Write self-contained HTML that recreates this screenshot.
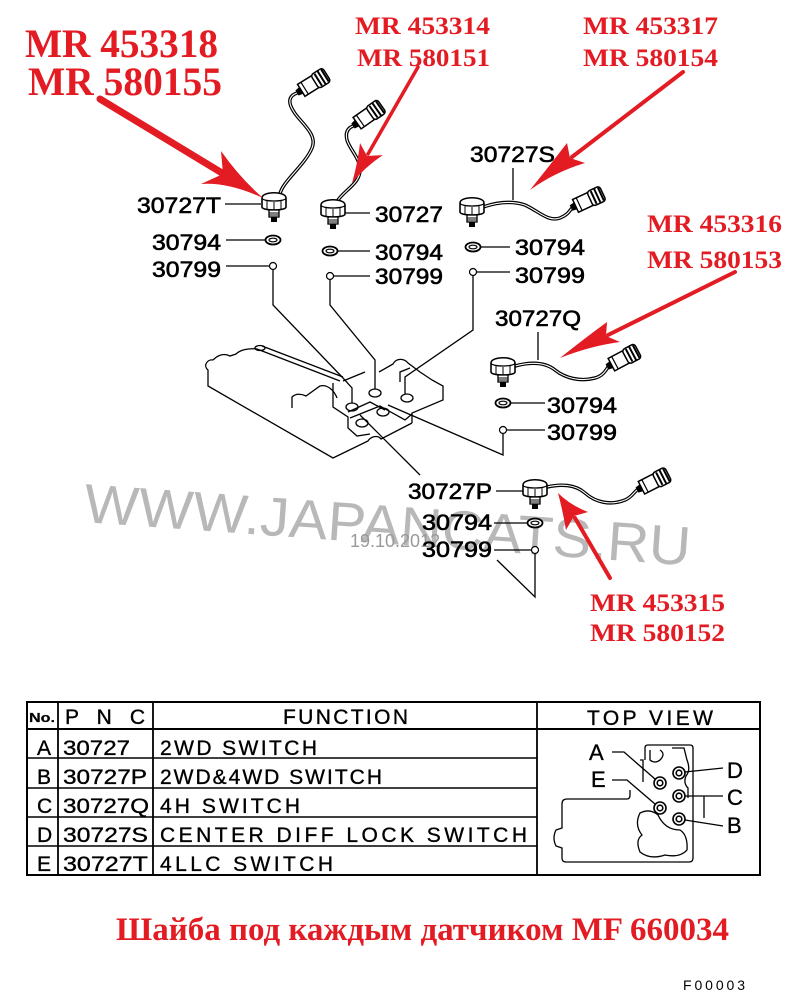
<!DOCTYPE html>
<html><head><meta charset="utf-8">
<style>
html,body{margin:0;padding:0;background:#fff;}
svg{display:block;}
.lbl{font-family:"Liberation Sans",Arial,sans-serif;font-size:22px;fill:#000;stroke:#000;stroke-width:0.6;}
.red{font-family:"Liberation Serif","Times New Roman",serif;font-weight:bold;fill:#e31b23;}
.ln{stroke:#000;stroke-width:1.3;fill:none;}
.tb{font-family:"Liberation Sans",Arial,sans-serif;font-size:21px;fill:#000;stroke:#000;stroke-width:0.35;}
</style></head><body>
<svg width="800" height="1008" viewBox="0 0 800 1008" xmlns="http://www.w3.org/2000/svg">
<rect width="800" height="1008" fill="#fff"/>
<defs>
<g id="sw">
<path d="M-12,5 C-12,-2 12,-2 12,5 L12,14 C12,18 -12,18 -12,14 Z" fill="#fff" stroke="#000" stroke-width="1.6"/>
<path d="M-12,5 C-12,9 12,9 12,5" fill="none" stroke="#000" stroke-width="1.2"/>
<path d="M-7,8 L-7,16 M0,9 L0,17 M7,8 L7,16" fill="none" stroke="#000" stroke-width="1"/>
<rect x="-5" y="17" width="10" height="7" fill="#fff" stroke="#000" stroke-width="1.3"/>
<path d="M-5,20 L5,20 M-5,22 L5,22" stroke="#000" stroke-width="1"/>
<path d="M-3,24 L-3,29 L3,29 L3,24 Z" fill="#000"/>
</g>
<g id="cn">
<path d="M0,-3 L6,-4 L6,4 L0,3Z" fill="#000"/>
<rect x="5" y="-7" width="17" height="14" fill="#fff" stroke="#000" stroke-width="1.5"/>
<path d="M9,-7 L9,7" stroke="#000" stroke-width="1.2"/>
<rect x="21" y="-8" width="14" height="16" rx="3" fill="#fff" stroke="#000" stroke-width="1.5"/>
<path d="M25,-7 L25,7 M29,-8 L29,8 M33,-7 L33,7" stroke="#000" stroke-width="2"/>
</g>
</defs>

<!-- watermark -->
<text x="83" y="522" transform="rotate(4.1 83 522)" font-family="Liberation Sans, Arial, sans-serif" font-size="55" fill="#b8b8b8" textLength="608" lengthAdjust="spacingAndGlyphs">WWW.JAPANCATS.RU</text>
<text x="350" y="547" font-family="Liberation Sans, Arial, sans-serif" font-size="18" fill="#9a9a9a">19.10.2012</text>

<!-- housing -->
<g class="ln">
<path d="M213,360 C207,359 203,366 208,370 L208,386 L333,458 L368,441 C371,436 378,435 381,439 L412,423"/>
<path d="M213,360 C218,355 224,353 230,356 L236,354 C240,350 248,348 257,349"/>
<path d="M257,349 L340,381 M262,346 L343,377"/>
<ellipse cx="260" cy="348" rx="5" ry="2.5"/>
<path d="M292,408 L292,397 C296,393 302,394 306,396 L320,386 C327,384 334,390 337,398"/>
<path d="M333,383 L333,407 L348,417 L348,428 L357,436 L370,434"/>
<path d="M343,381 L365,372 M379,372 L393,364 C396,358 404,358 408,363 L420,372 L432,380 L443,386 L443,400 L412,413 L412,423"/>
<path d="M350,418 L380,406 L405,420 L412,414"/>
<path d="M400,382 L400,372 L410,368"/>
<path d="M348,412 L370,402 L385,410"/>
<ellipse cx="375" cy="393" rx="6" ry="4"/>
<ellipse cx="352" cy="407" rx="6" ry="4"/>
<ellipse cx="407" cy="398" rx="6" ry="4"/>
<ellipse cx="383" cy="412" rx="6" ry="4"/>
<ellipse cx="362" cy="423" rx="6" ry="4"/>
<path d="M273,270 L273,305 L343,378 L352,388 L352,403"/>
<path d="M330,280 L330,305 L375,360 L375,389"/>
<path d="M473,276 L473,330 L405,377 L405,394"/>
<path d="M503,434 L503,455 L388,405"/>
<path d="M360,415 L420,475"/>
<path d="M497,560 L535,597 L535,554"/>
</g>

<!-- cables -->
<g fill="none" stroke="#000" stroke-width="3.5" stroke-linecap="round">
<path d="M280,194 C282,182 305,165 312,148 C318,134 300,122 294,112 C288,103 288,96 297,93"/>
<path d="M338,200 C345,190 360,183 360,170 C360,158 350,150 347,140 C345,132 348,128 353,126"/>
<path d="M483,207 C495,203 510,200 525,205 C540,212 548,222 560,218 C568,215 570,210 572,208"/>
<path d="M515,366 C530,362 545,362 555,370 C565,378 580,382 595,378 C603,376 606,370 608,367"/>
<path d="M547,487 C560,484 575,484 585,493 C595,502 610,506 625,500 C632,497 634,492 637,490"/>
</g>
<g fill="none" stroke="#fff" stroke-width="1.1">
<path d="M280,194 C282,182 305,165 312,148 C318,134 300,122 294,112 C288,103 288,96 297,93"/>
<path d="M338,200 C345,190 360,183 360,170 C360,158 350,150 347,140 C345,132 348,128 353,126"/>
<path d="M483,207 C495,203 510,200 525,205 C540,212 548,222 560,218 C568,215 570,210 572,208"/>
<path d="M515,366 C530,362 545,362 555,370 C565,378 580,382 595,378 C603,376 606,370 608,367"/>
<path d="M547,487 C560,484 575,484 585,493 C595,502 610,506 625,500 C632,497 634,492 637,490"/>
</g>

<use href="#cn" transform="translate(297,93) rotate(-32)"/>
<use href="#cn" transform="translate(353,126) rotate(-35)"/>
<use href="#cn" transform="translate(571,208) rotate(-25)"/>
<use href="#cn" transform="translate(607,367) rotate(-28)"/>
<use href="#cn" transform="translate(637,490) rotate(-27)"/>

<use href="#sw" x="274" y="193"/>
<use href="#sw" x="333" y="200"/>
<use href="#sw" x="472" y="198"/>
<use href="#sw" x="503" y="358"/>
<use href="#sw" x="535" y="480"/>

<g fill="#fff" stroke="#000" stroke-width="1.8">
<ellipse cx="273" cy="240" rx="7.5" ry="4.5"/>
<ellipse cx="330" cy="251" rx="7.5" ry="4.5"/>
<ellipse cx="473" cy="247" rx="7.5" ry="4.5"/>
<ellipse cx="503" cy="403" rx="7.5" ry="4.5"/>
<ellipse cx="535" cy="523" rx="7.5" ry="4.5"/>
</g>
<g fill="#fff" stroke="#000" stroke-width="1.2">
<ellipse cx="273" cy="240" rx="4" ry="1.8"/>
<ellipse cx="330" cy="251" rx="4" ry="1.8"/>
<ellipse cx="473" cy="247" rx="4" ry="1.8"/>
<ellipse cx="503" cy="403" rx="4" ry="1.8"/>
<ellipse cx="535" cy="523" rx="4" ry="1.8"/>
<circle cx="273" cy="266" r="3.5"/>
<circle cx="330" cy="276" r="3.5"/>
<circle cx="473" cy="272" r="3.5"/>
<circle cx="503" cy="430" r="3.5"/>
<circle cx="535" cy="550" r="3.5"/>
</g>

<g class="ln" stroke-width="1.4">
<path d="M225,204 L261,204 M226,240 L265,240 M226,266 L269,266"/>
<path d="M345,213 L370,213 M338,251 L370,251 M334,276 L370,276"/>
<path d="M481,247 L510,247 M477,272 L510,272 M513,168 L513,200"/>
<path d="M538,332 L538,360 M511,403 L545,403 M507,430 L545,430"/>
<path d="M496,491 L523,491 M494,523 L527,523 M494,550 L531,550"/>
</g>

<g class="lbl">
<text x="137" y="213" textLength="84" lengthAdjust="spacingAndGlyphs">30727T</text>
<text x="152" y="250" textLength="69" lengthAdjust="spacingAndGlyphs">30794</text>
<text x="152" y="277" textLength="69" lengthAdjust="spacingAndGlyphs">30799</text>
<text x="375" y="222" textLength="68" lengthAdjust="spacingAndGlyphs">30727</text>
<text x="375" y="260" textLength="68" lengthAdjust="spacingAndGlyphs">30794</text>
<text x="375" y="284" textLength="68" lengthAdjust="spacingAndGlyphs">30799</text>
<text x="470" y="162" textLength="85" lengthAdjust="spacingAndGlyphs">30727S</text>
<text x="515" y="255" textLength="70" lengthAdjust="spacingAndGlyphs">30794</text>
<text x="515" y="283" textLength="70" lengthAdjust="spacingAndGlyphs">30799</text>
<text x="495" y="326" textLength="86" lengthAdjust="spacingAndGlyphs">30727Q</text>
<text x="547" y="413" textLength="70" lengthAdjust="spacingAndGlyphs">30794</text>
<text x="547" y="440" textLength="70" lengthAdjust="spacingAndGlyphs">30799</text>
<text x="408" y="499" textLength="84" lengthAdjust="spacingAndGlyphs">30727P</text>
<text x="422" y="530" textLength="70" lengthAdjust="spacingAndGlyphs">30794</text>
<text x="422" y="557" textLength="70" lengthAdjust="spacingAndGlyphs">30799</text>
</g>

<g stroke="#e31b23" stroke-linecap="round" fill="none">
<line x1="100" y1="99" x2="222" y2="173" stroke-width="7"/>
<line x1="418" y1="67" x2="368" y2="154" stroke-width="3.5"/>
<line x1="683" y1="72" x2="572" y2="157" stroke-width="4"/>
<line x1="735" y1="272" x2="608" y2="335" stroke-width="4"/>
<line x1="610" y1="578" x2="575" y2="518" stroke-width="4"/>
</g>
<g fill="#e31b23">
<path d="M263,198 Q228,182 201,184 L223,174 L221,151 Q240,178 263,198 Z"/>
<path d="M352,183 Q358,162 360,143 L367,156 L383,155 Q365,167 352,183 Z"/>
<path d="M530,190 Q550,165 567,143 L570,158 L585,163 Q555,172 530,190 Z"/>
<path d="M560,358 Q585,338 607,322 L606,336 L620,342 Q590,346 560,358 Z"/>
<path d="M558,493 Q563,512 566,530 L574,516 L588,512 Q570,505 558,493 Z"/>
</g>

<g class="red">
<text x="25" y="57" font-size="40" textLength="193" lengthAdjust="spacingAndGlyphs">MR 453318</text>
<text x="28" y="95" font-size="40" textLength="194" lengthAdjust="spacingAndGlyphs">MR 580155</text>
<text x="355" y="34" font-size="25" textLength="135" lengthAdjust="spacingAndGlyphs">MR 453314</text>
<text x="357" y="66" font-size="25" textLength="133" lengthAdjust="spacingAndGlyphs">MR 580151</text>
<text x="583" y="34" font-size="25" textLength="135" lengthAdjust="spacingAndGlyphs">MR 453317</text>
<text x="583" y="66" font-size="25" textLength="135" lengthAdjust="spacingAndGlyphs">MR 580154</text>
<text x="647" y="232" font-size="25" textLength="135" lengthAdjust="spacingAndGlyphs">MR 453316</text>
<text x="647" y="268" font-size="25" textLength="135" lengthAdjust="spacingAndGlyphs">MR 580153</text>
<text x="590" y="611" font-size="25" textLength="135" lengthAdjust="spacingAndGlyphs">MR 453315</text>
<text x="590" y="641" font-size="25" textLength="135" lengthAdjust="spacingAndGlyphs">MR 580152</text>
<text x="116" y="940" font-size="33" textLength="613" lengthAdjust="spacingAndGlyphs">Шайба под каждым датчиком MF 660034</text>
</g>

<g stroke="#000" fill="none">
<rect x="27" y="702" width="733" height="173" stroke-width="2"/>
<path d="M27,729 L760,729" stroke-width="2"/>
<path d="M58,702 L58,875 M153,702 L153,875 M537,702 L537,875" stroke-width="1.8"/>
<path d="M27,758 L537,758 M27,788 L537,788 M27,817 L537,817 M27,846 L537,846" stroke-width="1.6"/>
</g>
<g class="tb">
<text x="29" y="722" font-size="13" font-weight="bold" stroke-width="0.2" textLength="26" lengthAdjust="spacingAndGlyphs">No.</text>
<text x="65" y="724" textLength="80" lengthAdjust="spacing">P N C</text>
<text x="283" y="724" textLength="125" lengthAdjust="spacing">FUNCTION</text>
<text x="587" y="725" textLength="126" lengthAdjust="spacing">TOP VIEW</text>
<text x="37" y="755">A</text>
<text x="37" y="784">B</text>
<text x="37" y="813">C</text>
<text x="37" y="842">D</text>
<text x="37" y="871">E</text>
<text x="63" y="755" textLength="67" lengthAdjust="spacingAndGlyphs">30727</text>
<text x="63" y="784" textLength="84" lengthAdjust="spacingAndGlyphs">30727P</text>
<text x="63" y="813" textLength="86" lengthAdjust="spacingAndGlyphs">30727Q</text>
<text x="63" y="842" textLength="85" lengthAdjust="spacingAndGlyphs">30727S</text>
<text x="63" y="871" textLength="85" lengthAdjust="spacingAndGlyphs">30727T</text>
<text x="160" y="755" textLength="157" lengthAdjust="spacing">2WD SWITCH</text>
<text x="160" y="784" textLength="222" lengthAdjust="spacing">2WD&amp;4WD SWITCH</text>
<text x="160" y="813" textLength="140" lengthAdjust="spacing">4H SWITCH</text>
<text x="160" y="842" textLength="367" lengthAdjust="spacing">CENTER DIFF LOCK SWITCH</text>
<text x="160" y="871" textLength="173" lengthAdjust="spacing">4LLC SWITCH</text>
</g>

<g class="ln" stroke-width="1.4">
<path d="M645,760 L645,748 Q645,745 648,745 L690,745 Q693,745 693,748 L693,858 Q693,862 689,862 L566,862 Q562,862 562,858 L562,848 L556,846 Q552,838 556,830 L562,828 L562,804 Q562,799 567,799 L627,799 Q630,799 630,795 L630,790"/>
<path d="M640,760 L643,760 L643,782"/>
<path d="M650,750 L650,760 Q655,764 660,760 Q666,754 660,750"/>
<path d="M672,748 L684,748 L687,760 Q691,770 686,776 Q683,783 688,788 L688,798"/>
<path d="M640,813 Q650,808 658,815 Q665,830 680,830 Q688,835 687,850 Q680,858 665,855 Q650,860 640,852 Q635,840 642,835 Q634,825 640,813 Z"/>
<path d="M612,752 L624,752 L655,779"/>
<path d="M612,780 L627,780 L655,804"/>
<path d="M685,772 L723,768 M685,796 L723,796 M704,796 L704,818 M685,820 L723,826"/>
</g>
<g fill="#fff" stroke="#000" stroke-width="1.6">
<circle cx="660" cy="783" r="6"/>
<circle cx="660" cy="808" r="6"/>
<circle cx="679" cy="773" r="6"/>
<circle cx="679" cy="796" r="6"/>
<circle cx="679" cy="819" r="6"/>
<circle cx="660" cy="783" r="2.8"/>
<circle cx="660" cy="808" r="2.8"/>
<circle cx="679" cy="773" r="2.8"/>
<circle cx="679" cy="796" r="2.8"/>
<circle cx="679" cy="819" r="2.8"/>
</g>
<g class="tb">
<text x="589" y="760" font-size="22">A</text>
<text x="591" y="787" font-size="22">E</text>
<text x="727" y="778" font-size="22">D</text>
<text x="727" y="805" font-size="22">C</text>
<text x="727" y="833" font-size="22">B</text>
</g>

<text x="683" y="990" font-family="Liberation Sans, Arial, sans-serif" font-size="14" fill="#000" textLength="62" lengthAdjust="spacing">F00003</text>
</svg>
</body></html>
